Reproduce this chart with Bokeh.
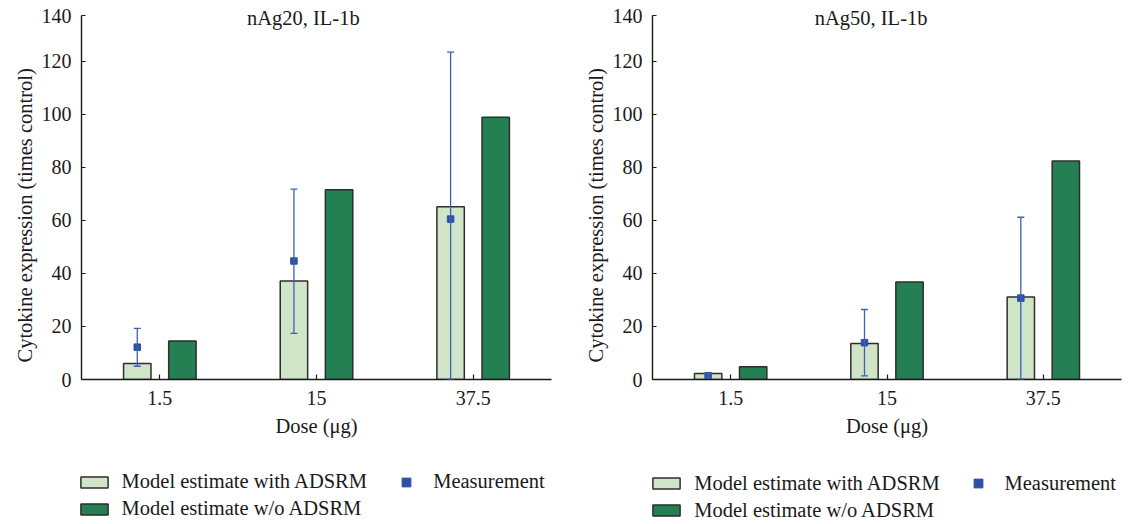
from bokeh.plotting import figure
from bokeh.models import (ColumnDataSource, FactorRange, Range1d, FixedTicker,
                          Whisker, TeeHead, Legend, LegendItem, Label, Title)
from bokeh.transform import dodge
from bokeh.layouts import row, column
from bokeh.embed import file_html
from bokeh.resources import INLINE

# ---------------- data ----------------
doses = ["1.5", "15", "37.5"]
y_ticks = [0, 20, 40, 60, 80, 100, 120]
y_top = 137.3          # value at the top of the axis, labelled "140" in the original
y_top_label = "140"

titles = ["nAg20, IL-1b", "nAg50, IL-1b"]
legend_labels = ["Model estimate with ADSRM", "Model estimate w/o ADSRM", "Measurement"]

nag20_with_adsrm = [6.0, 37.2, 65.2]
nag20_without_adsrm = [14.5, 71.6, 98.9]
nag20_meas = [12.2, 44.7, 60.5]
nag20_meas_low = [5.0, 17.4, 0.0]
nag20_meas_high = [19.3, 71.8, 123.5]

nag50_with_adsrm = [2.3, 13.6, 31.1]
nag50_without_adsrm = [4.8, 36.8, 82.4]
nag50_meas = [1.4, 13.9, 30.7]
nag50_meas_low = [0.6, 1.4, 0.0]
nag50_meas_high = [2.2, 26.4, 61.2]

# ---------------- style ----------------
FONT = "Liberation Serif"
LIGHT = "#d0e5c8"
DARK = "#247f53"
EDGE = "#2e2e2e"
BLUE = "#2f51a3"
ERR = "#3d60b5"
AXIS = "#1a1a1a"
TXT = "#1a1a1a"
BAR_W = 0.175
OFF = 0.144
MAIN_H = 462
LEG_H = 524 - MAIN_H
FRAME_TOP = 3
FRAME_H = 376
Y_END = FRAME_H / (364 / y_top)   # headroom above the axis for the title
NAN = float("nan")


def make_panel(title, src, width, border_left, border_right, title_x):
    p = figure(x_range=FactorRange(*doses, range_padding=0),
               y_range=Range1d(0, Y_END),
               width=width, height=MAIN_H, output_backend="svg",
               toolbar_location=None, min_border_left=border_left,
               min_border_right=border_right, min_border_top=FRAME_TOP,
               min_border_bottom=MAIN_H - FRAME_TOP - FRAME_H,
               outline_line_color=None,
               background_fill_color="white", border_fill_color="white")
    p.xgrid.visible = False
    p.ygrid.visible = False

    lpos = dodge("dose", -OFF, range=p.x_range)
    rpos = dodge("dose", OFF, range=p.x_range)
    p.vbar(x=lpos, top="with_adsrm", width=BAR_W, source=src,
           fill_color=LIGHT, line_color=EDGE, line_width=1.5)
    p.vbar(x=rpos, top="without_adsrm", width=BAR_W, source=src,
           fill_color=DARK, line_color=EDGE, line_width=1.5)
    p.scatter(x=lpos, y="meas", source=src, marker="square",
              size=6.5, fill_color=BLUE, line_color=BLUE)
    p.add_layout(Whisker(source=src, base=lpos, upper="high", lower="low",
                         line_color=ERR, line_width=1.3, level="annotation",
                         upper_head=TeeHead(size=7, line_color=ERR, line_width=1.3),
                         lower_head=TeeHead(size=7, line_color=ERR, line_width=1.3)))

    for ax in (p.xaxis[0], p.yaxis[0]):
        ax.axis_line_color = AXIS
        ax.axis_line_width = 1.4
        ax.major_tick_line_color = AXIS
        ax.major_tick_line_width = 1.2
        ax.major_tick_out = 0
        ax.minor_tick_line_color = None
        ax.major_label_text_font = FONT
        ax.major_label_text_font_size = "20px"
        ax.major_label_text_color = TXT
        ax.axis_label_text_font = FONT
        ax.axis_label_text_font_size = "20.5px"
        ax.axis_label_text_font_style = "normal"
        ax.axis_label_text_color = TXT
    p.xaxis.major_tick_in = 5
    p.xaxis.major_label_standoff = 11
    p.xaxis.axis_label_standoff = 7
    p.xaxis.axis_label = "Dose (μg)"
    p.yaxis.major_tick_in = 4
    p.yaxis.major_label_standoff = 10
    p.yaxis.bounds = (0, y_top)
    p.yaxis.ticker = FixedTicker(ticks=y_ticks + [y_top])
    p.yaxis.major_label_overrides = {y_top: y_top_label}

    # y-axis caption, set as a side title so it can start a little above the axis foot
    p.add_layout(Title(text="Cytokine expression (times control)",
                       align="left", offset=17, standoff=5,
                       text_font=FONT, text_font_size="20.5px",
                       text_font_style="normal", text_color=TXT), "left")

    p.add_layout(Label(x=title_x, y=361.5, x_units="screen", y_units="screen",
                       text=title, text_align="center",
                       text_baseline="alphabetic", text_font=FONT,
                       text_font_size="20.5px", text_color=TXT))
    return p


def make_legend_fig(width, bars_x, bars_y, meas_x, meas_y):
    # a strip below the chart that only carries the legend
    lf = figure(width=width, height=LEG_H,
                x_range=Range1d(0, 1), y_range=Range1d(0, 1),
                output_backend="svg", toolbar_location=None, min_border=0,
                outline_line_color=None, x_axis_type=None, y_axis_type=None,
                background_fill_color="white", border_fill_color="white")
    lf.xgrid.visible = False
    lf.ygrid.visible = False
    # legend-only renderers: their single point is NaN, so nothing is drawn
    r_with = lf.vbar(x=[NAN], top=[NAN], width=0.1, fill_color=LIGHT,
                     line_color=EDGE, line_width=1.5)
    r_wo = lf.vbar(x=[NAN], top=[NAN], width=0.1, fill_color=DARK,
                   line_color=EDGE, line_width=1.5)
    r_meas = lf.scatter(x=[NAN], y=[NAN], marker="square",
                        fill_color=BLUE, line_color=BLUE)
    common = dict(orientation="vertical", padding=0, margin=0,
                  border_line_color=None, background_fill_alpha=0,
                  label_text_font=FONT, label_text_font_size="20.5px",
                  label_text_color=TXT, label_height=24, spacing=3)
    leg1 = Legend(items=[LegendItem(label=legend_labels[0], renderers=[r_with]),
                         LegendItem(label=legend_labels[1], renderers=[r_wo])],
                  location=(bars_x, bars_y), glyph_width=34, glyph_height=14,
                  label_standoff=11, **common)
    leg2 = Legend(items=[LegendItem(label=legend_labels[2], renderers=[r_meas])],
                  location=(meas_x, meas_y), glyph_width=22,
                  glyph_height=22, label_standoff=16, **common)
    lf.add_layout(leg1)
    lf.add_layout(leg2)
    return lf


src20 = ColumnDataSource(dict(dose=doses, with_adsrm=nag20_with_adsrm,
                              without_adsrm=nag20_without_adsrm,
                              meas=nag20_meas, low=nag20_meas_low,
                              high=nag20_meas_high))
src50 = ColumnDataSource(dict(dose=doses, with_adsrm=nag50_with_adsrm,
                              without_adsrm=nag50_without_adsrm,
                              meas=nag50_meas, low=nag50_meas_low,
                              high=nag50_meas_high))

p1 = make_panel(titles[0], src20, 570, 81, 19, 221.8)
p2 = make_panel(titles[1], src50, 559, 82, 8, 218.6)

l1 = make_legend_fig(570, 76.6, 3.3, 395.2, 30.5)
l2 = make_legend_fig(559, 79.3, 1.7, 396.5, 29.0)

layout = column(row(p1, p2), row(l1, l2))
open("out.html", "w").write(file_html(layout, INLINE))
